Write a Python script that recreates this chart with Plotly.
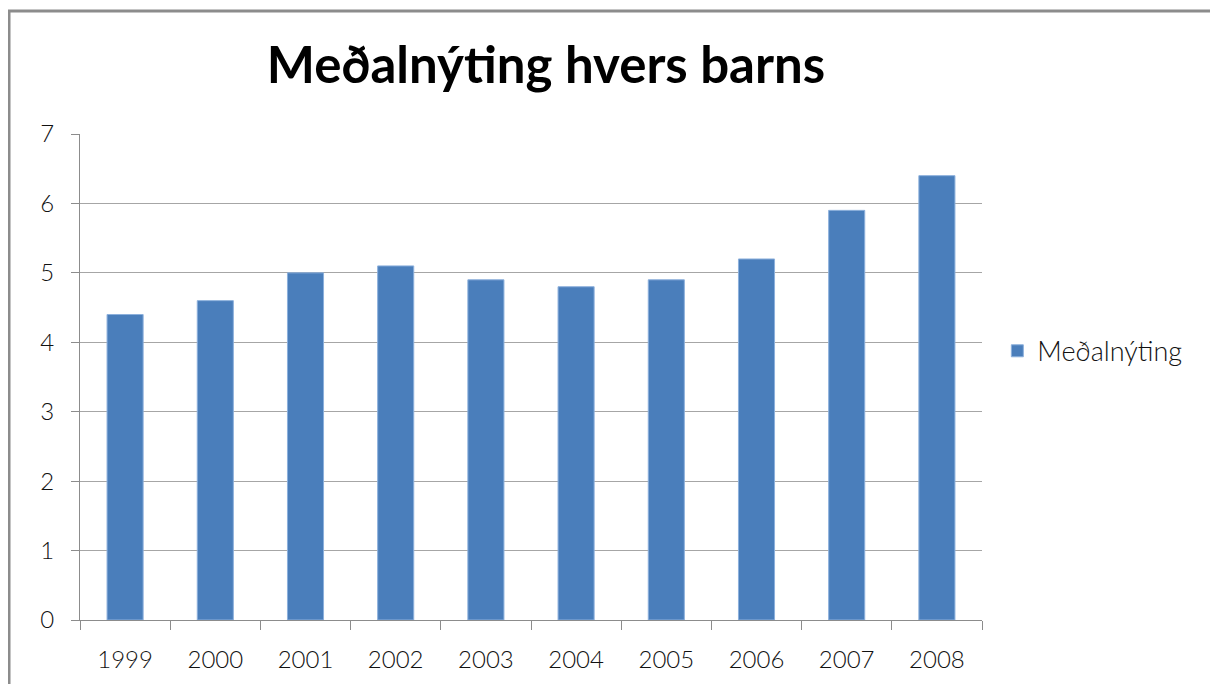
import plotly.graph_objects as go

years = ["1999", "2000", "2001", "2002", "2003", "2004", "2005", "2006", "2007", "2008"]
medalnyting = [4.4, 4.6, 5.0, 5.1, 4.9, 4.8, 4.9, 5.2, 5.9, 6.4]

fig = go.Figure()
fig.add_trace(go.Bar(
    x=years, y=medalnyting, name="Meðalnýting",
    marker=dict(color="#4a7ebb", line=dict(color="#8cb0dc", width=1)),
    showlegend=True,
))

# chart border (cropped on right/bottom like the screenshot)
fig.add_shape(type="rect", xref="paper", yref="paper",
              x0=-0.0787, y0=-0.3, x1=1.4, y1=1.2531,
              line=dict(color="#8c8c8c", width=3), layer="below")

fig.update_layout(
    width=1218, height=684,
    margin=dict(l=72, r=244, t=126, b=72),
    paper_bgcolor="white", plot_bgcolor="white",
    title=dict(text="<b>Meðalnýting hvers barns</b>", x=0.4417, xanchor="center",
               y=0.9167, yanchor="middle",
               font=dict(family="Lato", size=51, color="black")),
    bargap=0.6,
    legend=dict(x=1.017, y=0.553, xanchor="left", yanchor="middle",
                font=dict(family="Lato", size=27, color="#111", weight=300),
                itemwidth=30, bgcolor="rgba(0,0,0,0)"),
    font=dict(family="Lato", color="black"),
)
fig.update_xaxes(type="category", tickson="boundaries", ticks="outside", ticklen=9,
                 tickcolor="#8c8c8c", showline=True, linecolor="#8c8c8c", linewidth=1,
                 showgrid=False, ticklabelstandoff=18,
                 tickfont=dict(size=24, color="#111", weight=300))
fig.update_yaxes(range=[0, 7], dtick=1, ticks="outside", ticklen=8, tickcolor="#8c8c8c",
                 showline=True, linecolor="#8c8c8c", linewidth=1,
                 gridcolor="#a6a6a6", gridwidth=1, zeroline=False,
                 ticklabelstandoff=12,
                 tickfont=dict(size=24, color="#111", weight=300))

fig.write_html("out.html")
